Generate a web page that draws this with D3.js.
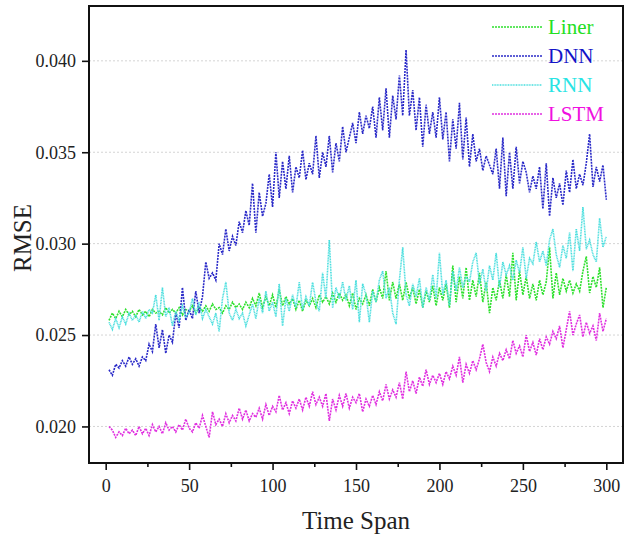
<!DOCTYPE html>
<html>
<head>
<meta charset="utf-8">
<script src="https://cdn.jsdelivr.net/npm/d3@7"></script>
<style>
body { margin: 0; background: #fff; }
text { font-family: "Liberation Serif", "Times New Roman", serif; }
</style>
</head>
<body>
<div id="chart"></div>
<script>
// time steps 2,4,...,300
var steps = d3.range(2, 301, 2);

var liner = [
0.0258,0.0262,0.0259,0.0263,0.0260,0.0264,0.0261,0.0263,0.0260,0.0264,
0.0261,0.0263,0.0260,0.0264,0.0262,0.0263,0.0261,0.0265,0.0262,0.0264,
0.0262,0.0265,0.0261,0.0264,0.0263,0.0266,0.0262,0.0265,0.0263,0.0266,
0.0263,0.0267,0.0264,0.0265,0.0262,0.0266,0.0264,0.0268,0.0265,0.0267,
0.0264,0.0268,0.0265,0.0270,0.0266,0.0273,0.0265,0.0271,0.0266,0.0272,
0.0265,0.0275,0.0266,0.0271,0.0267,0.0270,0.0264,0.0269,0.0263,0.0269,
0.0266,0.0270,0.0265,0.0272,0.0268,0.0271,0.0267,0.0273,0.0268,0.0273,
0.0269,0.0272,0.0266,0.0273,0.0264,0.0270,0.0267,0.0272,0.0266,0.0275,
0.0268,0.0276,0.0270,0.0285,0.0269,0.0279,0.0270,0.0278,0.0269,0.0279,
0.0270,0.0276,0.0267,0.0275,0.0265,0.0274,0.0268,0.0277,0.0266,0.0276,
0.0269,0.0278,0.0265,0.0288,0.0268,0.0282,0.0270,0.0287,0.0269,0.0280,
0.0271,0.0284,0.0268,0.0279,0.0262,0.0276,0.0269,0.0280,0.0270,0.0283,
0.0271,0.0295,0.0269,0.0285,0.0272,0.0282,0.0270,0.0278,0.0269,0.0280,
0.0272,0.0279,0.0298,0.0270,0.0284,0.0272,0.0281,0.0274,0.0280,0.0273,
0.0278,0.0274,0.0285,0.0293,0.0273,0.0282,0.0276,0.0287,0.0265,0.0276];

var dnn = [
0.0231,0.0228,0.0234,0.0232,0.0236,0.0233,0.0238,0.0234,0.0237,0.0233,
0.0238,0.0236,0.0245,0.0241,0.0256,0.0243,0.0253,0.0240,0.0250,0.0246,
0.0262,0.0254,0.0276,0.0258,0.0264,0.0259,0.0274,0.0262,0.0271,0.0290,
0.0281,0.0284,0.0280,0.0300,0.0294,0.0308,0.0296,0.0304,0.0299,0.0312,
0.0306,0.0318,0.0310,0.0333,0.0306,0.0328,0.0315,0.0322,0.0338,0.0320,
0.0350,0.0325,0.0345,0.0330,0.0348,0.0328,0.0342,0.0336,0.0351,0.0335,
0.0344,0.0338,0.0359,0.0336,0.0350,0.0342,0.0359,0.0339,0.0355,0.0345,
0.0364,0.0350,0.0358,0.0366,0.0355,0.0372,0.0360,0.0370,0.0363,0.0375,
0.0358,0.0380,0.0362,0.0385,0.0358,0.0381,0.0368,0.0392,0.0370,0.0406,
0.0370,0.0384,0.0362,0.0380,0.0353,0.0376,0.0360,0.0372,0.0358,0.0380,
0.0357,0.0372,0.0345,0.0368,0.0352,0.0377,0.0346,0.0369,0.0342,0.0360,
0.0345,0.0352,0.0340,0.0348,0.0343,0.0338,0.0352,0.0330,0.0358,0.0326,
0.0350,0.0330,0.0353,0.0333,0.0345,0.0339,0.0328,0.0337,0.0330,0.0342,
0.0319,0.0344,0.0315,0.0336,0.0325,0.0333,0.0321,0.0340,0.0328,0.0346,
0.0330,0.0338,0.0332,0.0344,0.0360,0.0331,0.0342,0.0334,0.0343,0.0324];

var rnn = [
0.0257,0.0253,0.0259,0.0254,0.0260,0.0256,0.0262,0.0258,0.0261,0.0257,
0.0263,0.0259,0.0264,0.0262,0.0272,0.0258,0.0276,0.0260,0.0265,0.0255,
0.0263,0.0258,0.0266,0.0260,0.0262,0.0270,0.0261,0.0268,0.0259,0.0264,
0.0260,0.0256,0.0262,0.0252,0.0270,0.0279,0.0262,0.0258,0.0264,0.0259,
0.0262,0.0255,0.0261,0.0267,0.0259,0.0270,0.0262,0.0274,0.0263,0.0268,
0.0260,0.0278,0.0255,0.0270,0.0263,0.0272,0.0265,0.0279,0.0264,0.0271,
0.0266,0.0279,0.0268,0.0263,0.0284,0.0270,0.0302,0.0265,0.0276,0.0270,
0.0279,0.0269,0.0277,0.0264,0.0280,0.0257,0.0278,0.0272,0.0257,0.0274,
0.0268,0.0280,0.0285,0.0270,0.0276,0.0262,0.0256,0.0280,0.0298,0.0272,
0.0266,0.0278,0.0271,0.0281,0.0265,0.0276,0.0269,0.0283,0.0270,0.0295,
0.0272,0.0280,0.0266,0.0285,0.0274,0.0287,0.0276,0.0282,0.0279,0.0290,
0.0295,0.0278,0.0286,0.0274,0.0288,0.0280,0.0295,0.0276,0.0290,0.0283,
0.0288,0.0280,0.0291,0.0284,0.0298,0.0281,0.0292,0.0289,0.0301,0.0290,
0.0296,0.0288,0.0302,0.0308,0.0294,0.0287,0.0299,0.0292,0.0306,0.0285,
0.0308,0.0296,0.0320,0.0297,0.0302,0.0294,0.0290,0.0314,0.0298,0.0304];

var lstm = [
0.0200,0.0198,0.0194,0.0197,0.0195,0.0199,0.0196,0.0198,0.0195,0.0200,
0.0196,0.0199,0.0195,0.0201,0.0197,0.0200,0.0196,0.0202,0.0198,0.0200,
0.0197,0.0201,0.0198,0.0204,0.0199,0.0197,0.0202,0.0199,0.0206,0.0200,
0.0194,0.0208,0.0201,0.0204,0.0200,0.0207,0.0202,0.0206,0.0203,0.0210,
0.0204,0.0209,0.0203,0.0207,0.0205,0.0210,0.0204,0.0212,0.0206,0.0211,
0.0208,0.0217,0.0209,0.0213,0.0207,0.0214,0.0210,0.0215,0.0209,0.0216,
0.0211,0.0219,0.0212,0.0216,0.0211,0.0218,0.0203,0.0215,0.0209,0.0217,
0.0211,0.0218,0.0210,0.0216,0.0213,0.0218,0.0208,0.0215,0.0211,0.0217,
0.0212,0.0219,0.0214,0.0223,0.0215,0.0220,0.0216,0.0224,0.0215,0.0230,
0.0219,0.0225,0.0218,0.0227,0.0222,0.0231,0.0223,0.0228,0.0224,0.0229,
0.0223,0.0230,0.0226,0.0233,0.0228,0.0238,0.0224,0.0234,0.0229,0.0236,
0.0231,0.0237,0.0245,0.0235,0.0230,0.0238,0.0233,0.0240,0.0236,0.0242,
0.0237,0.0247,0.0240,0.0244,0.0238,0.0250,0.0241,0.0246,0.0239,0.0248,
0.0242,0.0249,0.0245,0.0252,0.0248,0.0255,0.0243,0.0253,0.0263,0.0250,
0.0256,0.0261,0.0249,0.0257,0.0251,0.0255,0.0247,0.0262,0.0252,0.0259];

var seriesNames = ["Liner", "DNN", "RNN", "LSTM"];
var seriesData = [liner, dnn, rnn, lstm];
var lineColors = ["#2ee02e", "#2a2ac8", "#48dede", "#e030e0"];
var textColors = ["#22e022", "#1414c8", "#28e4e4", "#f010e0"];

var xTicks = [0, 50, 100, 150, 200, 250, 300];
var xMinor = [25, 75, 125, 175, 225, 275];
var yTicks = [0.020, 0.025, 0.030, 0.035, 0.040];

var w = 635;
var h = 537;

var svg = d3.select("div#chart")
    .append("svg")
    .attr("width", w)
    .attr("height", h);

var x = d3.scaleLinear().domain([-10, 310]).range([89, 623]);
var y = d3.scaleLinear().domain([0.018, 0.043]).range([463, 6]);

// grid
svg.selectAll(".grid")
    .data(yTicks)
    .enter()
    .append("line")
    .attr("x1", x.range()[0])
    .attr("x2", x.range()[1])
    .attr("y1", function(d){ return y(d); })
    .attr("y2", function(d){ return y(d); })
    .attr("stroke", "#d4d4d4")
    .attr("stroke-width", 1)
    .style("stroke-dasharray", "2,2");

// lines
var line = d3.line()
    .x(function(d, i){ return x(steps[i]); })
    .y(function(d){ return y(d); });

svg.selectAll(".series")
    .data(seriesData)
    .enter()
    .append("path")
    .attr("d", line)
    .attr("fill", "none")
    .attr("stroke", function(d, i){ return lineColors[i]; })
    .attr("stroke-width", 1.6)
    .style("stroke-dasharray", function(d, i){ return i == 2 ? "1,0.6" : "2,1"; });

// axes
svg.append("g")
    .attr("transform", "translate(0," + 463 + ")")
    .call(d3.axisBottom(x).tickValues(xTicks).tickSize(7).tickPadding(9).tickFormat(d3.format("d")));

svg.append("g")
    .attr("transform", "translate(0," + 463 + ")")
    .call(d3.axisBottom(x).tickValues(xMinor).tickSize(4).tickFormat(""));

svg.append("g")
    .attr("transform", "translate(" + 89 + ",0)")
    .call(d3.axisLeft(y).tickValues(yTicks).tickSize(7).tickPadding(6).tickFormat(d3.format(".3f")));

svg.selectAll(".tick text")
    .style("font-size", "18px")
    .attr("fill", "#222");
svg.selectAll(".tick line")
    .attr("stroke", "#111")
    .attr("stroke-width", 1.6);
svg.selectAll(".domain").remove();

// frame
svg.append("rect")
    .attr("x", 89)
    .attr("y", 6)
    .attr("width", 534)
    .attr("height", 457)
    .attr("fill", "none")
    .attr("stroke", "#111")
    .attr("stroke-width", 2);

// axis titles
svg.append("text")
    .attr("x", 356)
    .attr("y", 529)
    .attr("text-anchor", "middle")
    .style("font-size", "25px")
    .attr("fill", "#222")
    .text("Time Span");

svg.append("text")
    .attr("transform", "translate(31,238) rotate(-90)")
    .attr("text-anchor", "middle")
    .style("font-size", "25px")
    .attr("fill", "#222")
    .text("RMSE");

// legend
var legend = svg.selectAll(".legend")
    .data(seriesNames)
    .enter()
    .append("g")
    .attr("transform", function(d, i){ return "translate(0," + (27 + i * 29) + ")"; });

legend.append("line")
    .attr("x1", 492)
    .attr("x2", 542)
    .attr("y1", 0)
    .attr("y2", 0)
    .attr("stroke", function(d, i){ return lineColors[i]; })
    .attr("stroke-width", 1.6)
    .style("stroke-dasharray", function(d, i){ return i == 2 ? "1,0.6" : "2,1"; });

legend.append("text")
    .attr("x", 548)
    .attr("y", 7)
    .style("font-size", "21px")
    .attr("fill", function(d, i){ return textColors[i]; })
    .text(function(d){ return d; });
</script>
</body>
</html>
